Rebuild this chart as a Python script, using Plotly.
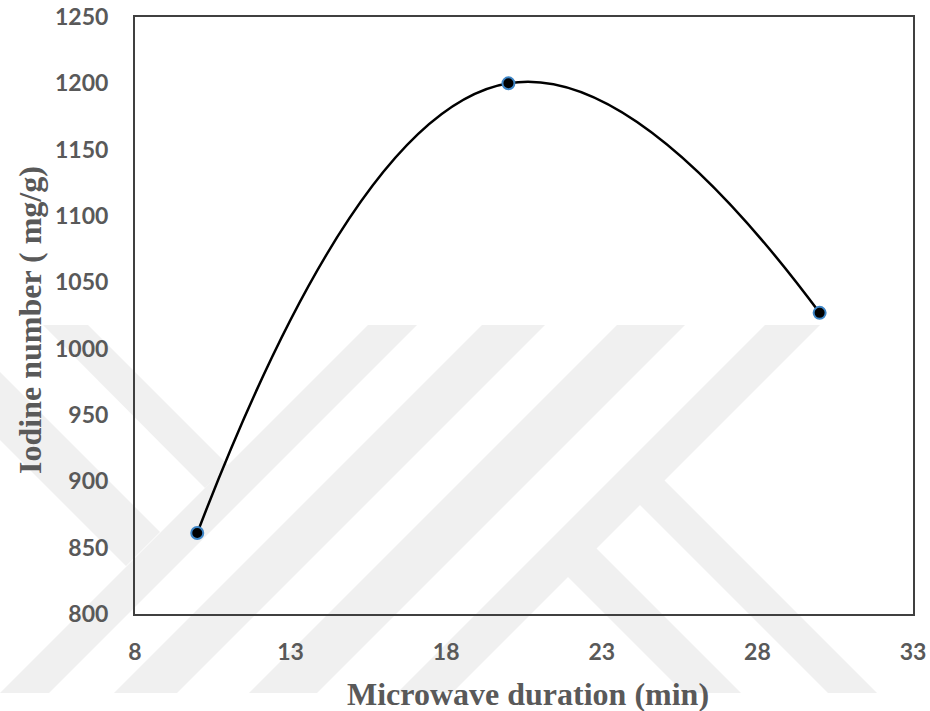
import plotly.graph_objects as go

# ---- data ----
duration_min = [10, 20, 30]
iodine_number = [861, 1200, 1027]

x_ticks = [8, 13, 18, 23, 28, 33]
y_ticks = [800, 850, 900, 950, 1000, 1050, 1100, 1150, 1200, 1250]

x_title = "Microwave duration (min)"
y_title = "Iodine number ( mg/g)"

# ---- layout geometry (page pixels) ----
W, H = 930, 711
L, R, T, B = 135, 17, 17, 97
PW, PH = W - L - R, H - T - B

def px(x, y):
    # page pixel -> paper coordinates
    return (x - L) / PW, (H - B - y) / PH

# background watermark polygons (decoration, page pixel coords)
watermark = [
    [(368, 325), (417, 325), (49, 693), (0, 693)],
    [(482, 325), (545, 325), (177, 693), (114, 693)],
    [(617, 325), (685, 325), (317, 693), (249, 693)],
    [(765, 325), (820, 325), (452, 693), (397, 693)],
    [(662, 478), (877, 693), (828, 693), (637, 502)],
    [(593, 545), (741, 693), (684, 693), (564, 573)],
    [(43, 325), (88, 325), (228, 465), (205, 488)],
    [(0, 372), (160, 532), (126, 566), (0, 440)],
]

shapes = []
for poly in watermark:
    pts = [px(x, y) for x, y in poly]
    path = "M " + " L ".join(f"{a:.5f},{b:.5f}" for a, b in pts) + " Z"
    shapes.append(dict(type="path", path=path, xref="paper", yref="paper",
                       fillcolor="#f0f0f0", line=dict(width=0), layer="below"))

fig = go.Figure()
fig.add_trace(go.Scatter(
    x=duration_min, y=iodine_number,
    mode="lines+markers",
    line=dict(color="black", width=2.5, shape="spline", smoothing=1.3),
    marker=dict(color="black", size=12, line=dict(color="#3d85c6", width=2)),
    showlegend=False,
    cliponaxis=False,
))

tick_font = dict(family="Lato, Open Sans, sans-serif", size=23, color="#595959", weight="bold")
title_font = dict(family="Liberation Serif, Times New Roman, serif", size=32, color="#595959")

fig.update_layout(
    width=W, height=H,
    margin=dict(l=L, r=R, t=T, b=B, autoexpand=False),
    paper_bgcolor="white",
    plot_bgcolor="rgba(0,0,0,0)",
    shapes=shapes,
    xaxis=dict(range=[8, 33], tickvals=x_ticks, ticktext=[str(v) for v in x_ticks],
               showgrid=False, zeroline=False, showline=True, mirror=True,
               linecolor="#404040", linewidth=2, ticks="", ticklabelstandoff=16,
               ticklabeloverflow="allow",
               tickfont=tick_font, automargin=False),
    yaxis=dict(range=[800, 1250], tickvals=y_ticks, ticktext=[str(v) for v in y_ticks],
               showgrid=False, zeroline=False, showline=True, mirror=True,
               linecolor="#404040", linewidth=2, ticks="", ticklabelstandoff=20,
               ticklabeloverflow="allow",
               tickfont=tick_font, automargin=False),
    annotations=[
        dict(text=f"<b>{x_title}</b>", xref="paper", yref="paper",
             x=px(528, 0)[0], y=px(0, 694)[1], showarrow=False,
             xanchor="center", yanchor="middle", font=title_font),
        dict(text=f"<b>{y_title}</b>", xref="paper", yref="paper",
             x=px(30, 0)[0], y=px(0, 320)[1], showarrow=False, textangle=-90,
             xanchor="center", yanchor="middle", font=title_font),
    ],
)

fig.write_html(
    "out.html",
    config={"displayModeBar": False},
    post_script="document.body.style.margin='0';document.body.style.overflow='hidden';",
)
